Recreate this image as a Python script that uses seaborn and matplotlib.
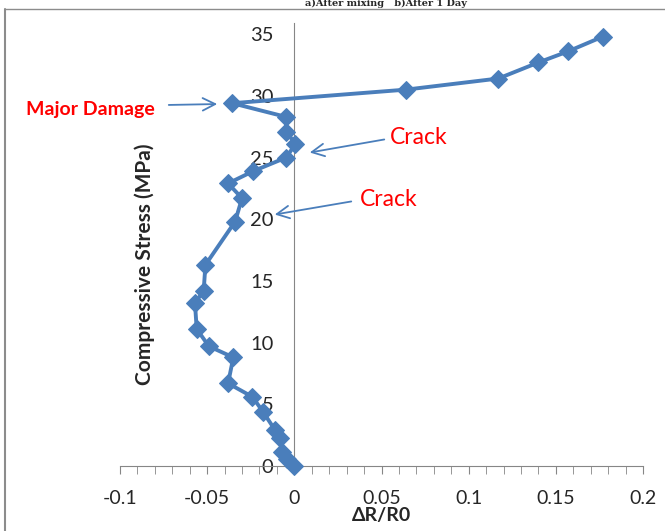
import matplotlib
matplotlib.use('Agg')
import matplotlib.pyplot as plt
from matplotlib.lines import Line2D
from matplotlib.ticker import MultipleLocator
import seaborn as sns
import pandas as pd

# Readings (in loading order)
resistance_change = [0, -0.004, -0.007, -0.008, -0.011, -0.018, -0.024, -0.038,
                     -0.035, -0.049, -0.056, -0.057, -0.052, -0.051, -0.034, -0.030,
                     -0.038, -0.0235, -0.0046, 0.0006, -0.0046, -0.005, -0.0356,
                     0.064, 0.117, 0.140, 0.157, 0.177]
stress_mpa = [0, 0.6, 1.1, 2.3, 2.9, 4.4, 5.6, 6.7, 8.8, 9.7, 11.1, 13.2, 14.2, 16.3,
              19.8, 21.7, 22.9, 23.9, 25.0, 26.1, 27.1, 28.3, 29.4, 30.5, 31.4,
              32.7, 33.6, 34.8]
x_ticks = [-0.1, -0.05, 0, 0.05, 0.1, 0.15, 0.2]
x_tick_labels = ['-0.1', '-0.05', '0', '0.05', '0.1', '0.15', '0.2']
y_ticks = [0, 5, 10, 15, 20, 25, 30, 35]

df = pd.DataFrame({'dR': resistance_change, 'stress': stress_mpa})

sns.set_style('white')
plt.rcParams['font.family'] = ['Lato', 'DejaVu Sans']

blue = '#4a7ebb'
fig = plt.figure(figsize=(6.65, 5.31), dpi=100)
ax = fig.add_axes([120 / 665, 65 / 531, 523 / 665, 443 / 531])

# keep points in loading order, no aggregation on repeated x values
sns.lineplot(data=df, x='dR', y='stress', sort=False, estimator=None, errorbar=None,
             ax=ax, color=blue, linewidth=2.8, marker='D', markersize=9.5,
             markeredgecolor=blue, clip_on=False, zorder=5)

ax.set_xlim(-0.1, 0.2)
ax.set_ylim(0, 35.9)

# axes like the Excel chart: y axis sits at x = 0
ax.spines['left'].set_position(('data', 0))
ax.spines['left'].set_color('#868686')
ax.spines['bottom'].set_color('#868686')
ax.spines['top'].set_visible(False)
ax.spines['right'].set_visible(False)

ax.set_xticks(x_ticks)
ax.set_xticklabels(x_tick_labels)
ax.xaxis.set_minor_locator(MultipleLocator(0.01))
ax.tick_params(axis='x', which='both', direction='out', length=6, color='#868686',
               labelsize=14, pad=11, bottom=True)
ax.set_yticks(y_ticks)
ax.tick_params(axis='y', length=0, labelsize=14.5, pad=15)

ax.set_xlabel('ΔR/R0', fontsize=14, fontweight='bold', labelpad=0)
ax.set_ylabel('')
fig.text(145 / 665, 1 - 264 / 531, 'Compressive Stress (MPa)', rotation=90,
         fontsize=15, fontweight='bold', ha='center', va='center')

# annotations
red = '#ff0000'
fig.text(90 / 665, 1 - 109 / 531, 'Major Damage', color=red, fontsize=14,
         fontweight='bold', ha='center', va='center')
fig.text(390 / 665, 1 - 138 / 531, 'Crack', color=red, fontsize=16.5,
         ha='left', va='center')
fig.text(360 / 665, 1 - 199 / 531, 'Crack', color=red, fontsize=16.5,
         ha='left', va='center')


def px(xp, yp):
    return (xp / 665, 1 - yp / 531)


arrow_style = dict(arrowstyle='->,head_length=0.9,head_width=0.45', color=blue, lw=1.3)
ax.annotate('', xy=px(220, 104), xytext=px(166, 105), xycoords='figure fraction',
            textcoords='figure fraction', arrowprops=arrow_style)
ax.annotate('', xy=px(307, 153), xytext=px(387, 139), xycoords='figure fraction',
            textcoords='figure fraction', arrowprops=arrow_style)
ax.annotate('', xy=px(272, 215), xytext=px(354, 201), xycoords='figure fraction',
            textcoords='figure fraction', arrowprops=arrow_style)

# page frame and caption above the chart
fig.add_artist(Line2D([5 / 665, 5 / 665], [0, 1 - 9 / 531], color='#8c8c8c', lw=1.5,
                      transform=fig.transFigure))
fig.add_artist(Line2D([5 / 665, 1], [1 - 9 / 531, 1 - 9 / 531], color='#8c8c8c', lw=1.0,
                      transform=fig.transFigure))
fig.text(305 / 665, 1 - 8 / 531, 'a)After mixing   b)After 1 Day', family='DejaVu Serif',
         fontsize=7, fontweight='bold', ha='left', va='bottom')

fig.savefig('out.png', dpi=100)
